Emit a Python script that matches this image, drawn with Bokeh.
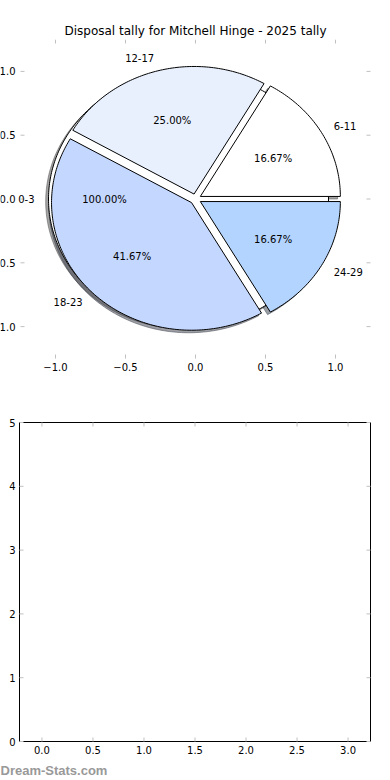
import numpy as np
from bokeh.plotting import figure
from bokeh.models import Range1d, LinearAxis, FixedTicker, Label, Title, Grid
from bokeh.layouts import column
from bokeh.embed import file_html
from bokeh.resources import INLINE

# ---------------- data ----------------
TITLE = "Disposal tally for Mitchell Hinge - 2025 tally"

base_labels = ["0-3"]
base_values = [1]
base_explode = [0.05]
base_colors = ["#ffffff"]

age_groups = ["6-11", "12-17", "18-23", "24-29"]
tallies = [2, 3, 5, 2]
slice_explode = [0.04, 0.04, 0.04, 0.04]
slice_colors = ["#ffffff", "#e8f0fe", "#c4d7ff", "#b3d4ff"]

pie_ticks = [-1.0, -0.5, 0.0, 0.5, 1.0]
pie_tick_labels = ["\u22121.0", "\u22120.5", "0.0", "0.5", "1.0"]

bar_x_ticks = [0.0, 0.5, 1.0, 1.5, 2.0, 2.5, 3.0]
bar_x_labels = ["0.0", "0.5", "1.0", "1.5", "2.0", "2.5", "3.0"]
bar_y_ticks = [0, 1, 2, 3, 4, 5]
bar_y_labels = ["0", "1", "2", "3", "4", "5"]

WATERMARK = "Dream-Stats.com"

FONT = "DejaVu Sans"
TICK_GREY = "#c0c0c0"
CANVAS_W = 390


def pie_geometry(values, explode, labeldistance=1.1, pctdistance=0.6):
    total = float(sum(values))
    theta1 = 0.0
    xs, ys, lab, pct = [], [], [], []
    for v, e in zip(values, explode):
        theta2 = theta1 + 360.0 * v / total
        mid = np.deg2rad(0.5 * (theta1 + theta2))
        cx, cy = e * np.cos(mid), e * np.sin(mid)
        n = max(int(theta2 - theta1), 2) + 1
        t = np.deg2rad(np.linspace(theta1, theta2, n))
        px = cx + np.cos(t)
        py = cy + np.sin(t)
        if theta2 - theta1 < 360.0:
            px = np.concatenate([[cx], px])
            py = np.concatenate([[cy], py])
        xs.append(px.tolist())
        ys.append(py.tolist())
        lab.append((cx + labeldistance * np.cos(mid), cy + labeldistance * np.sin(mid)))
        pct.append((cx + pctdistance * np.cos(mid), cy + pctdistance * np.sin(mid),
                    "%.2f%%" % (100.0 * v / total)))
        theta1 = theta2
    return xs, ys, lab, pct


def shade(hexcolor):
    h = hexcolor.lstrip("#")
    r, g, b = (int(h[i:i + 2], 16) for i in (0, 2, 4))
    return "#%02x%02x%02x" % (round(.3 * r), round(.3 * g), round(.3 * b))


def hide_grids(p):
    for r in p.center:
        if isinstance(r, Grid):
            r.visible = False


def add_x_axis(p, ticks, labels, standoff, tick_in):
    ax = LinearAxis(ticker=FixedTicker(ticks=ticks))
    ax.axis_line_color = None
    ax.major_tick_in = tick_in
    ax.major_tick_out = 0
    ax.major_tick_line_color = TICK_GREY
    ax.major_tick_line_width = 1
    ax.minor_tick_line_color = None
    ax.major_label_overrides = {t: l for t, l in zip(ticks, labels)}
    ax.major_label_text_font = FONT
    ax.major_label_text_font_size = "10px"
    ax.major_label_text_color = "#000000"
    ax.major_label_standoff = standoff
    p.add_layout(ax, "below")


def add_y_labels(p, x, ticks, labels, standoff):
    for t, lbl in zip(ticks, labels):
        p.add_layout(Label(x=x, y=t, x_offset=-standoff, text=lbl, text_align="right",
                           text_baseline="middle", text_font=FONT, text_font_size="10px",
                           text_color="#000000"))


def add_x_labels(p, y, ticks, labels, standoff):
    for t, lbl in zip(ticks, labels):
        p.add_layout(Label(x=t, y=y, y_offset=-standoff, text=lbl, text_align="center",
                           text_baseline="top", text_font=FONT, text_font_size="10px",
                           text_color="#000000"))


def add_tick_rays(p, xticks, yticks, xlo, xhi, ylo, yhi, bottom=False):
    kw = dict(length=4, length_units="screen", line_color=TICK_GREY, line_width=1)
    p.ray(x=list(xticks), y=[yhi] * len(xticks), angle=-np.pi / 2, **kw)
    p.ray(x=[xhi] * len(yticks), y=list(yticks), angle=np.pi, **kw)
    p.ray(x=[xlo] * len(yticks), y=list(yticks), angle=0.0, **kw)
    if bottom:
        p.ray(x=list(xticks), y=[ylo] * len(xticks), angle=np.pi / 2, **kw)


# ---------------- pie ----------------
PIE_LIM = 1.25            # axes limits of the pie
PIE_BOX_LEFT, PIE_BOX_W = 20, 350
pie_scale = PIE_BOX_W / (2 * PIE_LIM)
PIE_XLO = -PIE_LIM - PIE_BOX_LEFT / pie_scale
PIE_XHI = PIE_LIM + (CANVAS_W - PIE_BOX_LEFT - PIE_BOX_W) / pie_scale

p1 = figure(frame_width=CANVAS_W, frame_height=319,
            x_range=Range1d(PIE_XLO, PIE_XHI), y_range=Range1d(-PIE_LIM, PIE_LIM),
            output_backend="svg", toolbar_location=None,
            x_axis_location=None, y_axis_location=None,
            min_border_left=0, min_border_right=0, min_border_top=39, min_border_bottom=30)
hide_grids(p1)
p1.outline_line_color = None
p1.background_fill_color = "white"
p1.border_fill_color = "white"
p1.title = Title(text=TITLE, align="center", text_font=FONT, text_font_size="12px",
                 text_font_style="normal", text_color="#000000", standoff=3)

bx, by, blab, bpct = pie_geometry(base_values, base_explode)
sx, sy, slab, spct = pie_geometry(tallies, slice_explode)

SH = 0.02
# shadows (drawn beneath everything)
for xs_, ys_, cols in ((bx, by, base_colors), (sx, sy, slice_colors)):
    p1.patches(xs=[[v - SH for v in a] for a in xs_], ys=[[v - SH for v in a] for a in ys_],
               fill_color=[shade(c) for c in cols], line_color=[shade(c) for c in cols],
               fill_alpha=0.5, line_alpha=0.5, line_width=1)
# wedges
p1.patches(xs=bx, ys=by, fill_color=base_colors, line_color="black", line_width=1)
p1.patches(xs=sx, ys=sy, fill_color=slice_colors, line_color="black", line_width=1)

for names, labpos, pctpos in ((base_labels, blab, bpct), (age_groups, slab, spct)):
    for name, (lx, ly), (qx, qy, qtxt) in zip(names, labpos, pctpos):
        p1.add_layout(Label(x=lx, y=ly, text=name, text_align="left" if lx > 0 else "right",
                            text_baseline="middle", text_font=FONT, text_font_size="10px",
                            text_color="#000000"))
        p1.add_layout(Label(x=qx, y=qy, text=qtxt, text_align="center",
                            text_baseline="middle", text_font=FONT, text_font_size="10px",
                            text_color="#000000"))

add_y_labels(p1, -PIE_LIM, pie_ticks, pie_tick_labels, 5)
add_x_axis(p1, pie_ticks, pie_tick_labels, 4, 4)
add_tick_rays(p1, pie_ticks, pie_ticks, -PIE_LIM, PIE_LIM, -PIE_LIM, PIE_LIM)

# ---------------- empty bar axes ----------------
XLO, XHI = -0.22, 3.22
YLO, YHI = 0, 5
BAR_BOX_LEFT, BAR_BOX_W, BAR_BOX_H = 19, 351, 319
BAR_PAD_TOP, BAR_PAD_BOTTOM = 34, 39      # room above / below the box, px
bx_scale = BAR_BOX_W / (XHI - XLO)
by_scale = BAR_BOX_H / (YHI - YLO)
BAR_XVIEW_LO = XLO - BAR_BOX_LEFT / bx_scale
BAR_XVIEW_HI = XHI + (CANVAS_W - BAR_BOX_LEFT - BAR_BOX_W) / bx_scale
p2 = figure(frame_width=CANVAS_W, frame_height=BAR_BOX_H + BAR_PAD_TOP + BAR_PAD_BOTTOM,
            x_range=Range1d(BAR_XVIEW_LO, BAR_XVIEW_HI),
            y_range=Range1d(YLO - BAR_PAD_BOTTOM / by_scale, YHI + BAR_PAD_TOP / by_scale),
            output_backend="svg", toolbar_location=None,
            x_axis_location=None, y_axis_location=None,
            min_border_left=0, min_border_right=0, min_border_top=0, min_border_bottom=0)
hide_grids(p2)
p2.outline_line_color = None
p2.background_fill_color = "white"
p2.border_fill_color = "white"
p2.quad(left=[XLO], right=[XHI], bottom=[YLO], top=[YHI], fill_color=None,
        line_color="black", line_width=1)
add_tick_rays(p2, bar_x_ticks, bar_y_ticks, XLO, XHI, YLO, YHI, bottom=True)
add_y_labels(p2, XLO, bar_y_ticks, bar_y_labels, 4)
add_x_labels(p2, YLO, bar_x_ticks, bar_x_labels, 4)
p2.add_layout(Label(x=BAR_XVIEW_LO, y=YLO, y_offset=-29, text=WATERMARK, text_align="left",
                    text_baseline="middle", text_font="Liberation Sans",
                    text_font_size="13px", text_font_style="bold", text_color="#999999"))

layout = column(p1, p2, spacing=0)

open("out.html", "w").write(file_html(layout, INLINE))
